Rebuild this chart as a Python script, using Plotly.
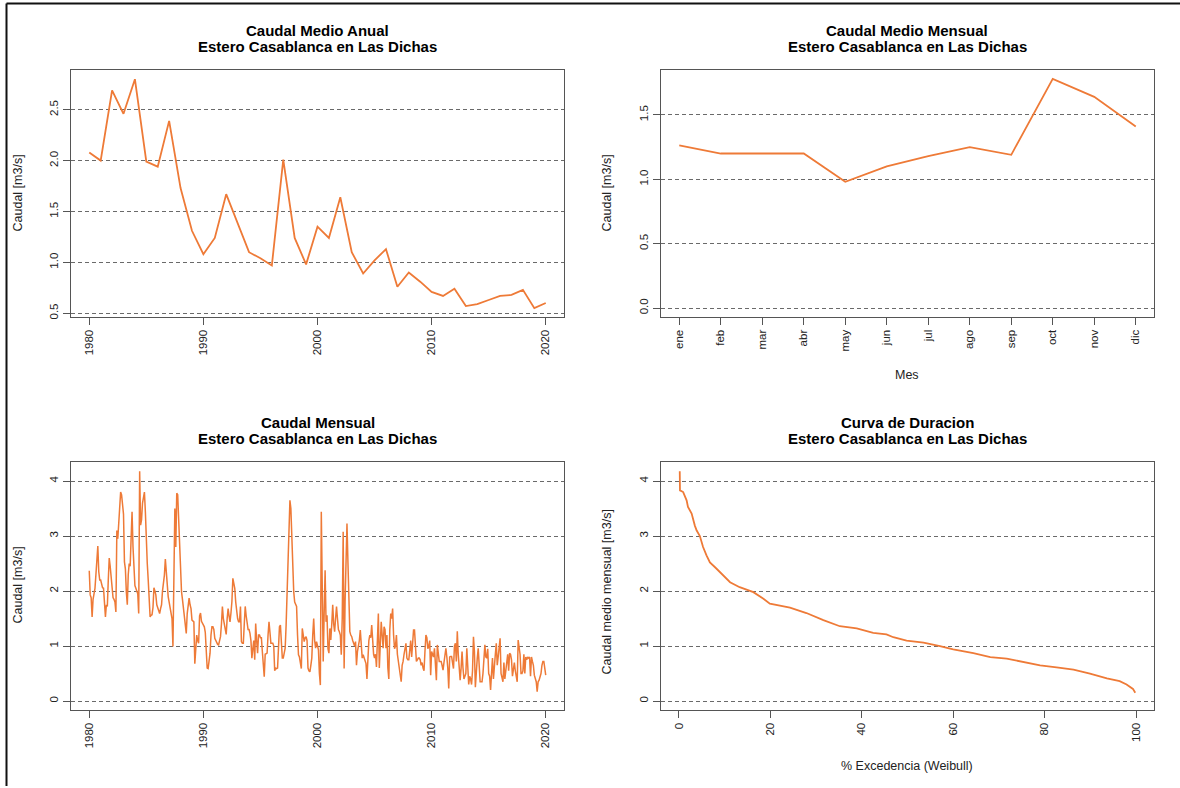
import plotly.graph_objects as go

# ---------------- DATA ----------------
anios = list(range(1980, 2021))
caudal_anual = [2.08, 2.00, 2.69, 2.46, 2.80, 1.99, 1.94, 2.39, 1.73, 1.31,
                1.08, 1.24, 1.67, 1.39, 1.10, 1.04, 0.97, 2.01, 1.24, 0.98,
                1.35, 1.24, 1.64, 1.10, 0.89, 1.02, 1.13, 0.76, 0.90, 0.81,
                0.71, 0.67, 0.74, 0.57, 0.59, 0.63, 0.67, 0.68, 0.73, 0.55,
                0.60]

meses = ["ene", "feb", "mar", "abr", "may", "jun", "jul", "ago", "sep", "oct", "nov", "dic"]
caudal_mes = [1.263, 1.20, 1.20, 1.20, 0.98, 1.10, 1.18, 1.25, 1.19, 1.78, 1.64, 1.41]

inicio_mensual = 1980
caudal_mensual = [
    2.37, 1.93, 1.88, 1.53, 1.85, 1.93, 2.05, 2.30, 2.60, 2.82, 2.35, 2.20,  # 1980
    2.20, 2.10, 2.06, 2.05, 1.80, 1.53, 1.75, 1.72, 2.20, 2.60, 2.45, 2.20,  # 1981
    1.99, 1.88, 1.85, 1.80, 1.62, 3.10, 2.95, 3.30, 3.60, 3.80, 3.75, 3.50,  # 1982
    3.40, 2.53, 2.40, 1.98, 1.75, 2.30, 2.50, 2.45, 2.90, 3.44, 2.80, 2.30,  # 1983
    2.10, 2.05, 2.00, 1.95, 1.59, 4.18, 3.20, 3.30, 3.60, 3.75, 3.80, 3.44,  # 1984
    2.84, 2.50, 2.20, 1.80, 1.53, 1.56, 1.57, 1.70, 2.06, 2.00, 1.93, 1.75,  # 1985
    1.68, 1.62, 1.59, 1.68, 1.75, 2.00, 2.15, 2.29, 2.58, 2.30, 2.10, 1.90,  # 1986
    1.80, 1.70, 1.62, 1.50, 0.99, 1.93, 3.50, 2.80, 3.78, 3.75, 3.30, 2.70,  # 1987
    2.47, 1.99, 1.85, 1.68, 1.45, 1.32, 1.23, 1.59, 1.70, 1.87, 1.75, 1.68,  # 1988
    1.47, 1.45, 1.44, 0.68, 0.90, 1.20, 1.10, 1.05, 1.55, 1.60, 1.45, 1.41,  # 1989
    1.38, 1.35, 1.25, 0.80, 0.60, 0.59, 0.70, 0.87, 1.20, 1.35, 1.35, 1.30,  # 1990
    1.14, 1.10, 1.08, 1.03, 1.02, 1.10, 1.17, 1.40, 1.72, 1.50, 1.40, 1.30,  # 1991
    1.21, 1.50, 1.68, 1.55, 1.44, 1.60, 1.81, 2.23, 2.10, 2.05, 1.80, 1.59,  # 1992
    1.50, 1.44, 1.44, 1.72, 1.08, 1.05, 1.05, 1.40, 1.72, 1.55, 1.44, 1.30,  # 1993
    1.30, 1.23, 1.10, 0.78, 0.95, 1.10, 0.75, 1.41, 1.10, 0.87, 1.20, 1.20,  # 1994
    1.15, 1.15, 0.90, 0.70, 0.44, 0.85, 0.87, 0.87, 1.20, 1.44, 1.25, 1.05,  # 1995
    1.05, 1.05, 1.00, 0.55, 0.60, 0.59, 0.60, 1.20, 1.35, 1.38, 1.00, 0.78,  # 1996
    0.78, 0.90, 0.96, 1.38, 1.87, 2.32, 3.02, 3.65, 3.50, 2.90, 2.20, 1.99,  # 1997
    1.80, 1.75, 1.72, 1.20, 0.84, 0.80, 0.70, 0.59, 1.32, 1.20, 1.08, 1.15,  # 1998
    1.17, 1.10, 0.60, 0.55, 0.53, 0.65, 0.78, 1.20, 1.50, 1.10, 0.96, 1.08,  # 1999
    1.00, 0.93, 0.50, 0.29, 3.44, 2.00, 0.72, 1.60, 2.38, 1.44, 1.56, 0.95,  # 2000
    0.87, 1.32, 1.11, 1.40, 1.75, 1.40, 1.26, 1.50, 1.72, 1.50, 1.30, 1.26,  # 2001
    1.20, 0.84, 1.50, 3.08, 0.59, 1.81, 2.50, 3.23, 2.53, 1.62, 1.26, 1.20,  # 2002
    1.17, 1.10, 1.05, 1.00, 1.08, 0.65, 0.90, 1.00, 1.10, 1.29, 1.00, 0.78,  # 2003
    0.84, 0.78, 0.72, 0.68, 0.40, 0.90, 1.10, 1.20, 1.15, 1.38, 1.05, 0.85,  # 2004
    0.78, 0.85, 0.62, 1.10, 1.59, 0.60, 1.00, 1.44, 1.20, 0.96, 1.35, 1.30,  # 2005
    0.96, 1.20, 0.60, 0.40, 1.29, 1.59, 1.50, 1.68, 1.20, 0.95, 1.00, 1.20,  # 2006
    0.85, 0.72, 0.60, 0.45, 0.35, 0.65, 0.72, 0.85, 1.00, 1.05, 0.78, 0.75,  # 2007
    0.75, 1.00, 1.10, 0.80, 1.20, 1.29, 1.29, 1.00, 0.72, 0.75, 0.78, 0.78,  # 2008
    0.75, 0.65, 0.70, 0.60, 0.55, 0.90, 1.20, 1.15, 0.95, 1.00, 1.10, 0.47,  # 2009
    0.90, 0.85, 0.80, 0.96, 0.60, 0.38, 1.02, 0.78, 0.72, 0.72, 0.72, 0.65,  # 2010
    0.56, 0.70, 0.80, 0.96, 0.80, 0.60, 0.23, 0.80, 0.81, 0.81, 0.70, 0.59,  # 2011
    1.00, 1.05, 0.72, 1.27, 0.85, 0.50, 0.38, 0.60, 0.90, 0.60, 0.40, 0.45,  # 2012
    0.50, 0.96, 0.72, 0.30, 0.45, 0.40, 0.30, 0.55, 1.17, 0.90, 0.25, 0.60,  # 2013
    0.78, 0.96, 0.60, 0.35, 0.35, 0.35, 0.50, 0.75, 1.02, 0.80, 0.78, 0.95,  # 2014
    0.50, 0.45, 0.20, 0.50, 0.78, 0.40, 0.70, 0.85, 1.05, 0.65, 0.80, 0.95,  # 2015
    1.14, 0.50, 0.40, 0.35, 0.70, 0.40, 0.55, 0.78, 0.85, 0.55, 0.87, 0.85,  # 2016
    0.75, 0.45, 0.60, 0.70, 0.55, 0.40, 0.35, 1.11, 1.00, 0.85, 0.50, 0.50,  # 2017
    0.55, 0.85, 0.50, 0.80, 0.75, 0.80, 0.78, 0.80, 0.45, 0.80, 0.72, 0.65,  # 2018
    0.47, 0.40, 0.35, 0.17, 0.35, 0.38, 0.45, 0.50, 0.65, 0.72, 0.72, 0.60,  # 2019
    0.47,                                                                    # 2020
]

excedencia = [0.2, 0.25, 0.95, 1.7, 2.0, 2.8, 3.5, 3.9, 4.6, 5.3, 6.05, 6.8, 8.2, 9.7,
              11.2, 13.3, 16.3, 18.5, 19.9, 24.3, 27.9, 31.6, 35.2, 38.9, 42.5, 45.4,
              46.9, 49.8, 53.5, 57.1, 60.0, 64.4, 68.1, 71.7, 75.3, 79.0, 82.6, 86.3,
              89.9, 93.6, 96.4, 97.9, 99.3, 99.8]
caudal_dur = [4.18, 3.83, 3.80, 3.65, 3.53, 3.41, 3.19, 3.10, 3.00, 2.80, 2.65, 2.52, 2.41, 2.28,
              2.16, 2.07, 1.98, 1.86, 1.77, 1.70, 1.60, 1.47, 1.36, 1.32, 1.24, 1.21,
              1.16, 1.10, 1.06, 1.00, 0.94, 0.87, 0.80, 0.77, 0.71, 0.65, 0.61, 0.57,
              0.50, 0.41, 0.36, 0.30, 0.22, 0.15]

titulo_estacion = "Estero Casablanca en Las Dichas"
titulos = ["Caudal Medio Anual", "Caudal Medio Mensual", "Caudal Mensual", "Curva de Duracion"]

# ---------------- STYLE ----------------
W, H = 1180, 788
ORANGE = "#EE7A37"
FONT = "Liberation Sans, Arial, sans-serif"
FRAME = "#555555"


def px_x(p):
    return p / W


def px_y(p):
    return 1 - p / H


dom_x_left = [px_x(71), px_x(564)]
dom_x_right = [px_x(661), px_x(1154)]
dom_y_top = [px_y(318), px_y(70)]
dom_y_bot = [px_y(712), px_y(463)]

base_axis = dict(showline=True, linecolor=FRAME, linewidth=1, mirror=True,
                 ticks="outside", ticklen=7, tickcolor=FRAME, tickwidth=1,
                 zeroline=False, tickfont=dict(family=FONT, size=11.5, color="#222"))
xbase = dict(base_axis, showgrid=False, tickangle=-90)
ybase = dict(base_axis, showgrid=True, gridcolor="#6a6a6a", gridwidth=1,
             griddash="4px,3px", tickangle=-90)

fig = go.Figure()

x_mensual = [inicio_mensual + i / 12 for i in range(len(caudal_mensual))]
line = dict(color=ORANGE, width=1.8)

fig.add_trace(go.Scatter(x=anios, y=caudal_anual, mode="lines", line=line,
                         xaxis="x", yaxis="y", showlegend=False))
fig.add_trace(go.Scatter(x=list(range(1, 13)), y=caudal_mes, mode="lines", line=line,
                         xaxis="x2", yaxis="y2", showlegend=False))
fig.add_trace(go.Scatter(x=x_mensual, y=caudal_mensual, mode="lines",
                         line=dict(color=ORANGE, width=1.5),
                         xaxis="x3", yaxis="y3", showlegend=False))
fig.add_trace(go.Scatter(x=excedencia, y=caudal_dur, mode="lines", line=line,
                         xaxis="x4", yaxis="y4", showlegend=False))

fig.update_layout(
    width=W, height=H, margin=dict(l=0, r=0, t=0, b=0),
    paper_bgcolor="white", plot_bgcolor="white",
    font=dict(family=FONT, color="#111"),
    xaxis=dict(xbase, domain=dom_x_left, anchor="y", range=[1978.4, 2021.6],
               tickvals=[1980, 1990, 2000, 2010, 2020]),
    yaxis=dict(ybase, domain=dom_y_top, anchor="x", range=[0.461, 2.892],
               tickvals=[0.5, 1.0, 1.5, 2.0, 2.5], tickformat=".1f"),
    xaxis2=dict(xbase, domain=dom_x_right, anchor="y2", range=[0.56, 12.44],
                tickvals=list(range(1, 13)), ticktext=meses),
    yaxis2=dict(ybase, domain=dom_y_top, anchor="x2", range=[-0.071, 1.85],
                tickvals=[0.0, 0.5, 1.0, 1.5], tickformat=".1f"),
    xaxis3=dict(xbase, domain=dom_x_left, anchor="y3", range=[1978.4, 2021.6],
                tickvals=[1980, 1990, 2000, 2010, 2020]),
    yaxis3=dict(ybase, domain=dom_y_bot, anchor="x3", range=[-0.167, 4.35],
                tickvals=[0, 1, 2, 3, 4]),
    xaxis4=dict(xbase, domain=dom_x_right, anchor="y4", range=[-3.9, 103.9],
                tickvals=[0, 20, 40, 60, 80, 100]),
    yaxis4=dict(ybase, domain=dom_y_bot, anchor="x4", range=[-0.167, 4.35],
                tickvals=[0, 1, 2, 3, 4]),
)

annots = []
title_font = dict(family=FONT, size=15, color="#000")
centros = [((71 + 564) / 2, 31, 47), ((661 + 1154) / 2, 31, 47),
           ((71 + 564) / 2, 424, 440), ((661 + 1154) / 2, 424, 440)]
for (cx, y1, y2), t in zip(centros, titulos):
    for yy, txt in [(y1, t), (y2, titulo_estacion)]:
        annots.append(dict(x=px_x(cx), y=px_y(yy), xref="paper", yref="paper",
                           text=f"<b>{txt}</b>", showarrow=False, font=title_font,
                           xanchor="center", yanchor="middle"))

lab_font = dict(family=FONT, size=12.5, color="#222")
for cx, cy, t in [(18, 194, "Caudal [m3/s]"),
                  (607, 194, "Caudal [m3/s]"),
                  (18, 587, "Caudal [m3/s]"),
                  (607, 594, "Caudal medio mensual [m3/s]")]:
    annots.append(dict(x=px_x(cx), y=px_y(cy), xref="paper", yref="paper", text=t,
                       showarrow=False, font=lab_font, textangle=-90,
                       xanchor="center", yanchor="middle"))
for cx, cy, t in [(907, 376, "Mes"), (907, 768, "% Excedencia (Weibull)")]:
    annots.append(dict(x=px_x(cx), y=px_y(cy), xref="paper", yref="paper", text=t,
                       showarrow=False, font=lab_font, xanchor="center", yanchor="middle"))
fig.update_layout(annotations=annots)

# outer frame (top and left edges visible)
fig.add_shape(type="line", xref="paper", yref="paper", x0=px_x(6.5), x1=1.0,
              y0=px_y(3.5), y1=px_y(3.5), line=dict(color="#111", width=2))
fig.add_shape(type="line", xref="paper", yref="paper", x0=px_x(6.5), x1=px_x(6.5),
              y0=0, y1=px_y(3.5), line=dict(color="#111", width=2))

fig.write_html("out.html", config={"displayModeBar": False},
               post_script="document.body.style.margin='0';document.body.style.overflow='hidden';")
